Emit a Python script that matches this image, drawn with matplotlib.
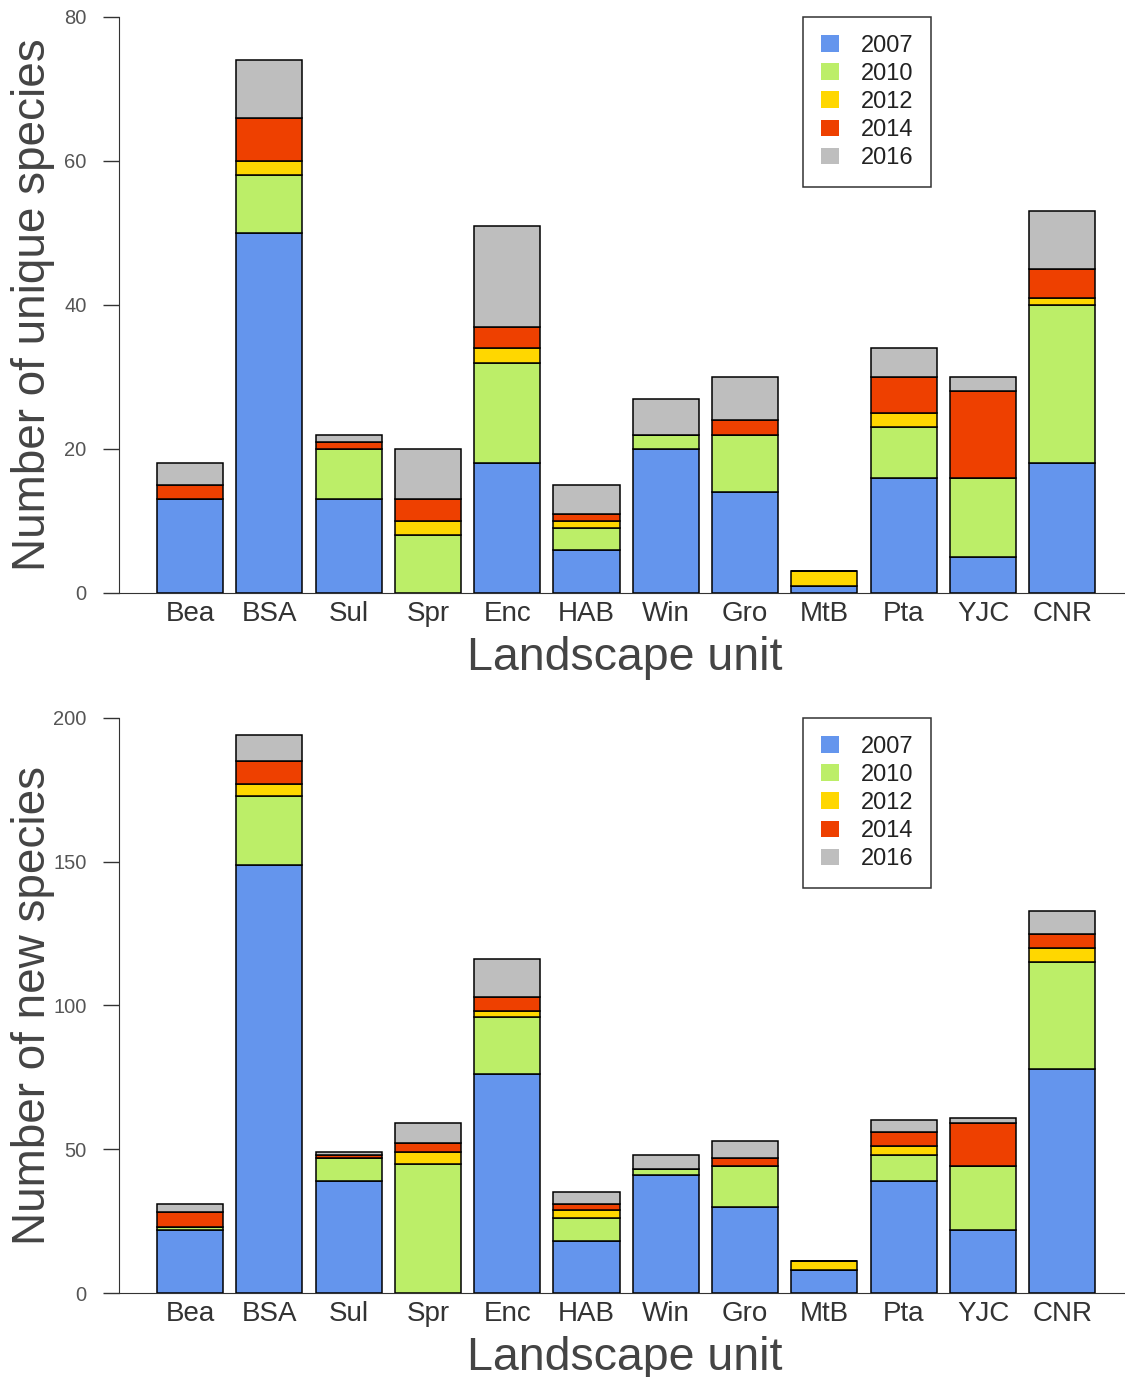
import numpy as np
import matplotlib.pyplot as plt
from matplotlib.patches import Patch

plt.rcParams['font.family'] = ['Liberation Sans', 'DejaVu Sans']

# Landscape units and survey years
units = ['Bea', 'BSA', 'Sul', 'Spr', 'Enc', 'HAB', 'Win', 'Gro', 'MtB', 'Pta', 'YJC', 'CNR']
years = ['2007', '2010', '2012', '2014', '2016']
colors = ['#6495ED', '#BCEE68', '#FFD700', '#EE4000', '#BEBEBE']

# Number of unique species added per year
unique_2007 = [13, 50, 13, 0, 18, 6, 20, 14, 1, 16, 5, 18]
unique_2010 = [0, 8, 7, 8, 14, 3, 2, 8, 0, 7, 11, 22]
unique_2012 = [0, 2, 0, 2, 2, 1, 0, 0, 2, 2, 0, 1]
unique_2014 = [2, 6, 1, 3, 3, 1, 0, 2, 0, 5, 12, 4]
unique_2016 = [3, 8, 1, 7, 14, 4, 5, 6, 0, 4, 2, 8]

# Number of new species added per year
new_2007 = [22, 149, 39, 0, 76, 18, 41, 30, 8, 39, 22, 78]
new_2010 = [1, 24, 8, 45, 20, 8, 2, 14, 0, 9, 22, 37]
new_2012 = [0, 4, 0, 4, 2, 3, 0, 0, 3, 3, 0, 5]
new_2014 = [5, 8, 1, 3, 5, 2, 0, 3, 0, 5, 15, 5]
new_2016 = [3, 9, 1, 7, 13, 4, 5, 6, 0, 4, 2, 8]

unique_data = [unique_2007, unique_2010, unique_2012, unique_2014, unique_2016]
new_data = [new_2007, new_2010, new_2012, new_2014, new_2016]

fig = plt.figure(figsize=(11.25, 13.77), dpi=100)
ax1 = fig.add_axes([0.1058, 0.5694, 0.8942, 0.4183])
ax2 = fig.add_axes([0.1058, 0.0610, 0.8942, 0.4176])


def stacked_panel(ax, data, ymax, step, ylabel):
    x = np.arange(len(units))
    bottom = np.zeros(len(units))
    for vals, c in zip(data, colors):
        ax.bar(x, vals, width=0.833, bottom=bottom, color=c,
               edgecolor='black', linewidth=1.1)
        bottom += np.array(vals)

    ax.set_xlim(-0.895, 11.79)
    ax.set_ylim(0, ymax)
    ax.set_yticks(np.arange(0, ymax + 1, step))
    ax.set_xticks(x)
    ax.set_xticklabels(units, fontsize=20, color='#333333')
    ax.tick_params(axis='x', length=0, pad=6)
    ax.tick_params(axis='y', length=11.5, width=1, color='#333333',
                   labelsize=14.5, labelcolor='#555555', pad=12)

    for s in ['top', 'right']:
        ax.spines[s].set_visible(False)
    ax.spines['left'].set_color('#333333')
    ax.spines['bottom'].set_color('#333333')
    ax.spines['left'].set_bounds(0, ymax)

    ax.set_ylabel(ylabel, fontsize=33, color='#444444')
    ax.yaxis.set_label_coords(-0.0636, 0.5)
    ax.set_xlabel('Landscape unit', fontsize=33.5, color='#444444')
    ax.xaxis.set_label_coords(0.503, -0.074)

    handles = [Patch(facecolor=c, edgecolor='none') for c in colors]
    leg = ax.legend(handles, years, loc='upper left', bbox_to_anchor=(0.68, 1.0),
                    fontsize=17, frameon=True, fancybox=False, edgecolor='black',
                    handlelength=0.75, handleheight=0.7, handletextpad=0.95,
                    labelspacing=0.26, borderpad=0.75, borderaxespad=0)
    leg.get_frame().set_linewidth(1.1)
    for t in leg.get_texts():
        t.set_color('#222222')


stacked_panel(ax1, unique_data, 80, 20, 'Number of unique species')
stacked_panel(ax2, new_data, 200, 50, 'Number of new species')

fig.savefig('out.png', dpi=100)
